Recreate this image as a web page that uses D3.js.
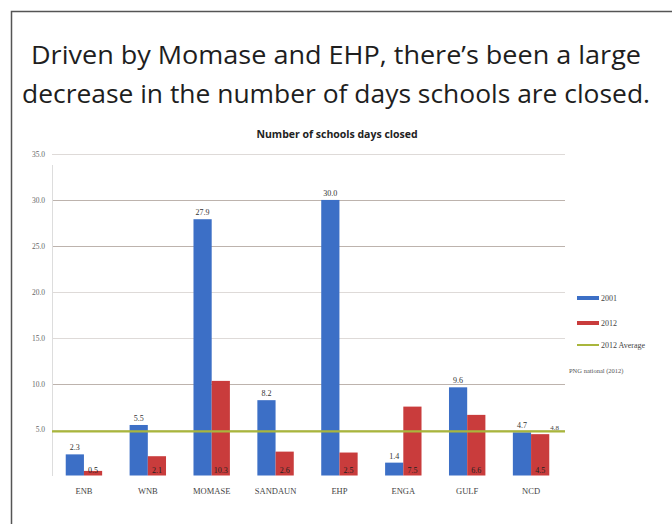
<!DOCTYPE html>
<html><head><meta charset="utf-8">
<script src="https://cdn.jsdelivr.net/npm/d3@7"></script>
<style>html,body{margin:0;padding:0;background:#fff;}svg{display:block;}</style>
</head><body>
<svg id="c" width="672" height="524"></svg>
<script>
const categories = ["ENB","WNB","MOMASE","SANDAUN","EHP","ENGA","GULF","NCD"];
const values2001 = [2.3, 5.5, 27.9, 8.2, 30.0, 1.4, 9.6, 4.7];
const values2012 = [0.5, 2.1, 10.3, 2.6, 2.5, 7.5, 6.6, 4.5];
const average2012 = 4.8;
const yTicks = [5, 10, 15, 20, 25, 30, 35];
const seriesNames = ["2001", "2012", "2012 Average", "PNG national (2012)"];
const titleLines = ["Driven by Momase and EHP, there\u2019s been a large", "decrease in the number of days schools are closed."];
const chartTitle = "Number of schools days closed";

const svg = d3.select("#c");
svg.append("rect").attr("width",672).attr("height",524).attr("fill","#fff");
// slide frame
svg.append("path").attr("d","M11.5,524 V11.5 H672").attr("fill","none").attr("stroke","#555").attr("stroke-width",1.5);

// main title
titleLines.forEach((t,i)=>{
  svg.append("text").attr("x",336).attr("y",[64,103][i]).attr("text-anchor","middle")
    .attr("font-family","'Open Sans', sans-serif").attr("font-size",25).attr("fill","#1e1e1e")
    .attr("textLength",[610,628][i]).attr("lengthAdjust","spacingAndGlyphs").text(t);
});
svg.append("text").attr("x",337).attr("y",138).attr("text-anchor","middle")
  .attr("font-family","'Open Sans', sans-serif").attr("font-weight","bold").attr("font-size",10.5).attr("fill","#222")
  .text(chartTitle);

const x0 = d3.scaleBand().domain(categories).range([52,563]).paddingInner(0.43).paddingOuter(0.215);
const x1 = d3.scaleBand().domain(["2001","2012"]).range([0,x0.bandwidth()]);
const y = d3.scaleLinear().domain([0,35]).range([475.5,154]);

// gridlines
const g = svg.append("g");
g.selectAll("line.grid").data(yTicks).join("line")
  .attr("x1",52).attr("x2",565).attr("y1",d=>Math.round(y(d))+0.5).attr("y2",d=>Math.round(y(d))+0.5)
  .attr("stroke",(d)=> (d===30||d===25||d===10)?"#bdb3ad":"#dedad8").attr("stroke-width",1);
// y axis line
svg.append("line").attr("x1",52.5).attr("x2",52.5).attr("y1",165).attr("y2",476).attr("stroke","#ddd");

const yAxis = d3.axisLeft(y).tickValues(yTicks).tickSize(0).tickPadding(7).tickFormat(d3.format(".1f"));
const ya = svg.append("g").attr("transform","translate(45,0)").call(yAxis);
ya.select(".domain").remove();
ya.selectAll("text").attr("font-family","'Liberation Serif', serif").attr("font-size",7.5).attr("fill","#666").attr("x",0);

// bars
const groups = svg.append("g").selectAll("g").data(categories).join("g")
  .attr("transform",d=>`translate(${x0(d)},0)`);
groups.append("rect").attr("x",x1("2001")).attr("width",x1.bandwidth())
  .attr("y",(d,i)=>y(values2001[i])).attr("height",(d,i)=>y(0)-y(values2001[i])).attr("fill","#3c6fc6");
groups.append("rect").attr("x",x1("2012")).attr("width",x1.bandwidth())
  .attr("y",(d,i)=>y(values2012[i])).attr("height",(d,i)=>y(0)-y(values2012[i])).attr("fill","#c93c3c");
groups.append("text").attr("x",x1("2001")+x1.bandwidth()/2).attr("y",(d,i)=>y(values2001[i])-4)
  .attr("text-anchor","middle").attr("font-family","'Liberation Serif', serif").attr("font-size",8).attr("fill","#333")
  .text((d,i)=>values2001[i].toFixed(1));
groups.append("text").attr("x",x1("2012")+x1.bandwidth()/2).attr("y",y(0)-3)
  .attr("text-anchor","middle").attr("font-family","'Liberation Serif', serif").attr("font-size",8).attr("fill","#222")
  .text((d,i)=>values2012[i].toFixed(1));

// average line
svg.append("line").attr("x1",52).attr("x2",565).attr("y1",y(average2012)).attr("y2",y(average2012))
  .attr("stroke","#a9b63c").attr("stroke-width",2.2);
svg.append("text").attr("x",x0("NCD")+x0.bandwidth()+1).attr("y",y(average2012)-1)
  .attr("font-family","'Liberation Serif', serif").attr("font-size",7).attr("fill","#444").text(average2012.toFixed(1));

// category axis
const xAxis = d3.axisBottom(x0).tickSize(0).tickPadding(12);
const xa = svg.append("g").attr("transform",`translate(0,${y(0)})`).call(xAxis);
xa.select(".domain").remove();
xa.selectAll("text").attr("font-family","'Liberation Serif', serif").attr("font-size",8.5).attr("fill","#444");

// legend
const legColors = ["#3c6fc6","#c93c3c","#a9b63c"];
const legY = [298, 323, 345];
seriesNames.slice(0,3).forEach((n,i)=>{
  svg.append("line").attr("x1",577).attr("x2",599).attr("y1",legY[i]).attr("y2",legY[i])
    .attr("stroke",legColors[i]).attr("stroke-width",i<2?4:2);
  svg.append("text").attr("x",601).attr("y",legY[i]+3).attr("font-family","'Liberation Serif', serif")
    .attr("font-size",8).attr("fill","#444").text(n);
});
svg.append("text").attr("x",569).attr("y",373).attr("font-family","'Liberation Serif', serif")
  .attr("font-size",6.5).attr("fill","#555").text(seriesNames[3]);
</script>
</body></html>
